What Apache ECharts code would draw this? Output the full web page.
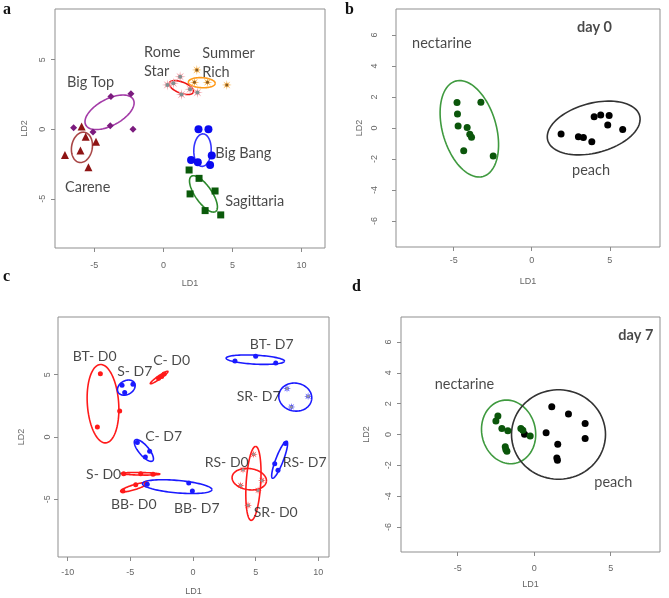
<!DOCTYPE html>
<html><head><meta charset="utf-8">
<script src="https://cdn.jsdelivr.net/npm/echarts@6/dist/echarts.min.js"></script>
<style>html,body{margin:0;padding:0;background:#fff}#c{width:669px;height:598px}</style>
</head><body><div id="c"></div>
<script>
// ---------- tick labels ----------
const aXTicks = [-5, 0, 5, 10];
const aYTicks = [-5, 0, 5];
const bXTicks = [-5, 0, 5];
const bYTicks = [-6, -4, -2, 0, 2, 4, 6];
const cXTicks = [-10, -5, 0, 5, 10];
const cYTicks = [-5, 0, 5];
const dXTicks = [-5, 0, 5];
const dYTicks = [-6, -4, -2, 0, 2, 4, 6];

// ---------- panel a (cultivars) ----------
const bigTop     = [[-6.5,0.1],[-3.8,2.35],[-2.35,2.55],[-5.1,-0.2],[-3.85,0.25],[-2.2,0.0]];
const carene     = [[-5.92,0.19],[-5.63,-0.53],[-4.88,-0.89],[-7.13,-1.85],[-6.01,-1.53],[-5.43,-2.73]];
const romeStar   = [[0.29,3.19],[0.72,3.31],[1.21,3.78],[1.31,2.5],[1.93,2.88],[2.46,2.64]];
const summerRich = [[2.42,4.27],[2.25,3.38],[3.19,3.38],[4.59,3.19]];
const bigBang    = [[2.54,0.0],[3.26,0.0],[2.0,-2.21],[2.49,-2.37],[3.5,-1.89],[3.38,-2.57]];
const sagittaria = [[1.86,-2.93],[2.58,-3.53],[1.93,-4.65],[3.74,-4.44],[3.02,-5.85],[4.15,-6.16]];
// ellipses: [cx, cy, semi-major, semi-minor, angle deg]
const bigTopEll     = [-3.9, 1.22, 1.95, 0.95, 28];
const careneEll     = [-5.9, -1.3, 1.1, 0.75, 80];
const romeStarEll   = [1.3, 3.0, 0.93, 0.4, -21];
const summerRichEll = [2.78, 3.35, 0.97, 0.36, -3];
const bigBangEll    = [2.83, -1.5, 1.17, 0.63, 88];
const sagittariaEll = [2.9, -4.65, 1.54, 0.6, -55];
const aLabels = [[-1.4,4.88,'Rome\nStar'],[2.81,4.8,'Summer\nRich'],[-6.98,3.4,'Big Top'],[3.75,-1.7,'Big Bang'],[-7.12,-4.15,'Carene'],[4.47,-5.16,'Sagittaria']];

// ---------- panel b (day 0) ----------
const nectarine0 = [[-4.79,1.64],[-4.76,0.91],[-4.72,0.13],[-4.14,0.04],[-3.97,-0.41],[-3.86,-0.6],[-4.36,-1.47],[-3.26,1.66],[-2.47,-1.81]];
const peach0     = [[1.88,-0.39],[2.99,-0.56],[3.31,-0.62],[3.85,-0.89],[4.0,0.73],[4.42,0.84],[4.96,0.8],[4.87,0.19],[5.83,-0.09]];
const nectarine0Ell = [-4.0, -0.05, 3.2, 1.72, -74];
const peach0Ell     = [3.97, 0.0, 3.05, 1.6, 15];
const bLabels = [[-7.67,5.48,'nectarine'],[2.58,-2.71,'peach']];
const bTitle  = [[2.9,6.5,'day 0']];

// ---------- panel c (cultivar x day) ----------
const btD0 = [[-7.39,5.08],[-5.85,2.09],[-7.63,0.8]];
const sD7  = [[-5.66,4.14],[-5.45,3.56],[-4.79,4.22]];
const cD0  = [[-2.3,5.05],[-2.5,4.85],[-2.75,4.7]];
const cD7  = [[-4.44,-0.45],[-3.46,-1.15],[-3.8,-1.6]];
const sD0  = [[-5.53,-2.94],[-4.17,-2.94],[-3.19,-2.99]];
const bbD0 = [[-5.59,-4.33],[-4.57,-3.82],[-3.72,-3.74]];
const bbD7 = [[-3.65,-3.78],[-0.34,-3.69],[-0.05,-4.33]];
const btD7 = [[3.35,6.1],[5.0,6.47],[6.6,5.94]];
const srD7 = [[7.5,3.88],[9.18,3.26],[7.85,2.41]];
const rsD7 = [[7.37,-0.53],[6.52,-2.14],[6.78,-2.67]];
const rsD0 = [[3.99,-2.62],[3.8,-3.88],[5.5,-3.48],[5.19,-4.28]];
const srD0 = [[4.84,-1.39],[4.39,-5.48]];
const btD0Ell = [-7.18, 2.67, 3.15, 1.25, 94];
const sD7Ell  = [-5.32, 3.96, 0.75, 0.55, 30];
const cD0Ell  = [-2.7, 4.77, 0.86, 0.13, 35];
const cD7Ell  = [-3.92, -1.08, 1.09, 0.4, -50];
const sD0Ell  = [-4.18, -2.95, 1.55, 0.1, -1];
const bbD0Ell = [-4.7, -4.03, 1.12, 0.2, 17];
const bbD7Ell = [-1.26, -3.98, 2.78, 0.5, -5];
const btD7Ell = [4.97, 6.2, 2.33, 0.36, -3];
const srD7Ell = [8.16, 3.2, 1.32, 1.12, -10];
const rsD7Ell = [6.91, -1.82, 1.59, 0.3, 69];
const rsD0Ell = [4.49, -3.38, 1.38, 0.85, -8];
const srD0Ell = [4.82, -3.72, 2.97, 0.58, 86.5];
const cLabels = [[-7.85,6.47,'BT- D0'],[-4.65,5.27,'S- D7'],[-1.7,6.15,'C- D0'],[6.28,7.43,'BT- D7'],[5.24,3.26,'SR- D7'],[-2.34,0.06,'C- D7'],[2.69,-2.03,'RS- D0'],[8.91,-2.03,'RS- D7'],[-7.13,-2.99,'S- D0'],[-4.73,-5.4,'BB- D0'],[0.3,-5.72,'BB- D7'],[6.6,-6.04,'SR- D0']];

// ---------- panel d (day 7) ----------
const nectarine7 = [[-2.37,1.2],[-2.5,0.87],[-2.11,0.39],[-1.72,0.24],[-0.87,0.39],[-0.74,0.28],[-0.26,-0.09],[-1.89,-0.8],[-1.78,-1.09],[-1.85,-0.98]];
const peach7     = [[-0.63,0.02],[0.78,0.11],[1.15,1.8],[2.24,1.33],[3.33,0.72],[3.33,-0.26],[1.54,-0.63],[1.48,-1.52],[1.52,-1.67]];
const nectarine7Ell = [-1.67, 0.17, 2.08, 1.75, -76];
const peach7Ell     = [1.59, 0.0, 3.07, 2.9, 0];
const dLabels = [[-6.5,3.26,'nectarine'],[3.93,-3.09,'peach']];
const dTitle  = [[5.5,6.43,'day 7']];

// ---------- rendering ----------
function starPath(n, r1, r2) {
  let d = 'path://';
  for (let i = 0; i < 2 * n; i++) {
    const r = i % 2 ? r2 : r1, t = i * Math.PI / n - Math.PI / 2;
    d += (i ? 'L' : 'M') + (r * Math.cos(t)).toFixed(2) + ',' + (r * Math.sin(t)).toFixed(2);
  }
  return d + 'Z';
}
const STAR = starPath(8, 10, 3.2);
function ellipseRender(params, api) {
  const cx = api.value(0), cy = api.value(1), a = api.value(2), b = api.value(3);
  const ang = api.value(4) * Math.PI / 180;
  const pts = [];
  for (let i = 0; i <= 90; i++) {
    const t = i / 90 * 2 * Math.PI;
    pts.push(api.coord([cx + a*Math.cos(t)*Math.cos(ang) - b*Math.sin(t)*Math.sin(ang), cy + a*Math.cos(t)*Math.sin(ang) + b*Math.sin(t)*Math.cos(ang)]));
  }
  return { type: 'polyline', shape: { points: pts }, style: { fill: 'none', stroke: api.visual('color'), lineWidth: 1.6 } };
}
const series = [];
function ell(g, e, color) {
  series.push({ type: 'custom', xAxisIndex: g, yAxisIndex: g, renderItem: ellipseRender,
    itemStyle: { color: color }, encode: { x: 0, y: 1 }, data: [e], silent: true, z: 3 });
}
function pts(g, d, symbol, size, color, z) {
  series.push({ type: 'scatter', xAxisIndex: g, yAxisIndex: g, data: d, symbol: symbol,
    symbolSize: size, itemStyle: { color: color, opacity: 1 }, silent: true, z: z || 4 });
}
function labels(g, d, pos, size, weight) {
  series.push({ type: 'scatter', xAxisIndex: g, yAxisIndex: g, data: d, symbolSize: 0.01,
    itemStyle: { color: 'rgba(0,0,0,0)' }, silent: true, z: 5,
    label: { show: true, position: pos, distance: 0, formatter: p => p.value[2],
      color: '#1a1a1a', fontFamily: 'Lato, "Open Sans", sans-serif', fontSize: size,
      fontWeight: weight || 'normal', lineHeight: 19 } });
}
// panel a
ell(0, bigTopEll, '#a43ca8'); pts(0, bigTop, 'diamond', 7, '#7b1b7e');
ell(0, careneEll, '#a84545'); pts(0, carene, 'triangle', 8, '#8e1414');
ell(0, romeStarEll, '#ee1111'); pts(0, romeStar, STAR, 11, '#f3a0a8'); pts(0, romeStar, 'circle', 4, '#7f9090', 6);
ell(0, summerRichEll, '#ff9a1a'); pts(0, summerRich, STAR, 10, '#f6b04a'); pts(0, summerRich, 'circle', 3, '#8a5a20', 6);
ell(0, bigBangEll, '#3535ff'); pts(0, bigBang, 'circle', 8, '#0a0af0');
ell(0, sagittariaEll, '#2d8a2d'); pts(0, sagittaria, 'rect', 7, '#0a5a0a');
labels(0, aLabels, 'right', 14.5);
// panel b
ell(1, nectarine0Ell, '#3f9a3f'); pts(1, nectarine0, 'circle', 7, '#0b560b');
ell(1, peach0Ell, '#333333'); pts(1, peach0, 'circle', 7, '#000000');
labels(1, bLabels, 'right', 14.5); labels(1, bTitle, 'right', 14.5, 'bold');
// panel c
const RED = '#ff1a1a', BLUE = '#1a1aff';
[[btD0, btD0Ell, RED], [sD7, sD7Ell, BLUE], [cD0, cD0Ell, RED], [cD7, cD7Ell, BLUE],
 [sD0, sD0Ell, RED], [bbD0, bbD0Ell, RED], [bbD7, bbD7Ell, BLUE], [btD7, btD7Ell, BLUE]]
  .forEach(([d, e, c]) => { ell(2, e, c); pts(2, d, 'circle', 5, c); });
[[srD7, srD7Ell, BLUE], [rsD0, rsD0Ell, RED], [srD0, srD0Ell, RED]]
  .forEach(([d, e, c]) => { ell(2, e, c); pts(2, d, STAR, 8, c); pts(2, d, 'circle', 3, '#9a9a9a', 6); });
ell(2, rsD7Ell, BLUE); pts(2, rsD7, 'circle', 5, BLUE);
labels(2, cLabels, 'inside', 14);
// panel d
ell(3, nectarine7Ell, '#3f9a3f'); pts(3, nectarine7, 'circle', 7, '#0b560b', 5);
ell(3, peach7Ell, '#333333'); pts(3, peach7, 'circle', 7, '#000000');
labels(3, dLabels, 'right', 14.5); labels(3, dTitle, 'right', 14.5, 'bold');

const grids = [
  { left: 55, top: 9, width: 270, height: 239 },
  { left: 396, top: 9, width: 264, height: 238 },
  { left: 58, top: 317, width: 271, height: 240 },
  { left: 401, top: 317, width: 259, height: 235 }
].map(g => Object.assign(g, { show: true, borderColor: '#8f8f8f', borderWidth: 1 }));
const AXFONT = 'Liberation Sans, Arial, sans-serif';
function xa(i, min, max, ticks, margin, gap) {
  return { gridIndex: i, type: 'value', min: min, max: max, name: 'LD1', nameLocation: 'middle', nameGap: gap,
    nameTextStyle: { color: '#666', fontSize: 9, fontFamily: AXFONT },
    axisLine: { show: false, onZero: false }, splitLine: { show: false },
    axisTick: { show: true, length: 4, customValues: ticks, lineStyle: { color: '#8a8a8a', width: 1 } },
    axisLabel: { customValues: ticks, margin: margin, color: '#666', fontSize: 9, fontFamily: AXFONT } };
}
function ya(i, min, max, ticks, margin, gap) {
  return { gridIndex: i, type: 'value', min: min, max: max, name: 'LD2', nameLocation: 'middle', nameGap: gap,
    nameTextStyle: { color: '#666', fontSize: 9, fontFamily: AXFONT },
    axisLine: { show: false, onZero: false }, splitLine: { show: false },
    axisTick: { show: true, length: 4, customValues: ticks, lineStyle: { color: '#8a8a8a', width: 1 } },
    axisLabel: { customValues: ticks, rotate: 90, margin: margin, color: '#666', fontSize: 9, fontFamily: AXFONT } };
}
const option = {
  animation: false,
  grid: grids,
  xAxis: [xa(0, -7.85, 11.7, aXTicks, 13, 31), xa(1, -8.7, 8.22, bXTicks, 9, 30),
          xa(2, -10.77, 10.85, cXTicks, 11, 30), xa(3, -8.7, 8.22, dXTicks, 12, 28)],
  yAxis: [ya(0, -8.54, 8.65, aYTicks, 8, 26), ya(1, -7.68, 7.68, bYTicks, 17, 32),
          ya(2, -9.62, 9.62, cYTicks, 6, 32), ya(3, -7.62, 7.62, dYTicks, 8, 30)],
  graphic: [
    { type: 'text', left: 3, top: 2, style: { text: 'a', font: 'bold 16px "Liberation Serif", serif', fill: '#111' } },
    { type: 'text', left: 345, top: 2, style: { text: 'b', font: 'bold 16px "Liberation Serif", serif', fill: '#111' } },
    { type: 'text', left: 3, top: 269, style: { text: 'c', font: 'bold 16px "Liberation Serif", serif', fill: '#111' } },
    { type: 'text', left: 352, top: 279, style: { text: 'd', font: 'bold 16px "Liberation Serif", serif', fill: '#111' } }
  ],
  series: series
};
echarts.init(document.getElementById('c')).setOption(option);
</script></body></html>
